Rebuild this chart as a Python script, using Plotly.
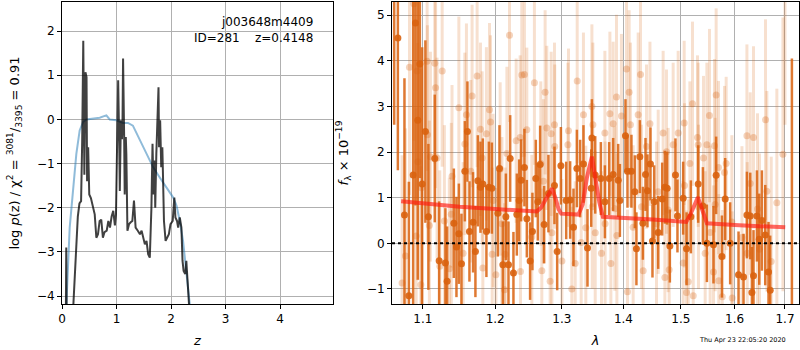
import plotly.graph_objects as go
import math

# ---------------- Left panel: log p(z) ----------------
z_grid = [0.070, 0.078, 0.086, 0.20, 0.24, 0.29, 0.32, 0.35, 0.37, 0.39, 0.41, 0.43, 0.45, 0.46, 0.48,
          0.50, 0.53, 0.57, 0.60, 0.63, 0.66, 0.69, 0.72, 0.75, 0.78, 0.82, 0.85, 0.88, 0.91, 0.94,
          0.97, 0.99, 1.01, 1.03, 1.05, 1.06, 1.08, 1.10, 1.11, 1.12, 1.14, 1.15, 1.17, 1.18, 1.20,
          1.23, 1.26, 1.29, 1.32, 1.35, 1.39, 1.43, 1.46, 1.49, 1.52, 1.55, 1.58, 1.61, 1.64, 1.66,
          1.68, 1.70, 1.71, 1.73, 1.75, 1.77, 1.78, 1.80, 1.82, 1.84, 1.85, 1.87, 1.90, 1.93, 1.96,
          1.99, 2.03, 2.06, 2.08, 2.11, 2.13, 2.16, 2.19, 2.21, 2.23, 2.26, 2.28, 2.30, 2.33, 2.36]
logpz = [-4.6, -2.9, -4.6, -4.4, -3.3, -2.2, -1.9, -1.85, -0.5, 1.78, -1.25, 1.07, 0.96, -1.4, -0.63,
         -1.7, -1.78, -2.0, -2.15, -2.68, -2.6, -2.3, -2.27, -2.68, -2.55, -2.52, -2.3, -2.45, -2.2, -2.07,
         -2.4, -2.15, -0.78, 0.89, -0.55, -1.62, -0.02, -0.45, 0.0, 1.38, -0.4, -1.7, -0.4, -0.78, -2.52,
         -2.37, -2.33, -2.30, -1.84, -2.45, -2.52, -2.6, -2.52, -2.68, -2.83, -2.75, -3.05, -3.13, -2.0, -0.55,
         -1.7, -0.93, -2.0, -0.78, -0.02, 0.73, -0.63, -0.02, -1.08, -0.63, -1.16, -2.3, -2.75, -2.68, -2.6,
         -2.37, -2.3, -1.77, -2.22, -2.3, -2.45, -2.22, -2.45, -3.2, -3.43, -3.5, -3.2, -3.6, -4.2, -4.8]

z_prior = [0.07, 0.08, 0.141, 0.202, 0.263, 0.324, 0.386, 0.447, 0.569, 0.692, 0.783, 0.814, 0.875,
           0.998, 1.12, 1.21, 1.30, 1.43, 1.55, 1.67, 1.79, 1.92, 2.04, 2.10, 2.16, 2.22, 2.28, 2.34, 2.37]
logp_prior = [-5.0, -4.2, -2.45, -1.54, -0.78, -0.25, -0.06, 0.0, 0.02, 0.04, 0.08, 0.09, 0.0,
              -0.02, -0.08, -0.08, -0.14, -0.48, -0.78, -1.08, -1.31, -1.54, -1.77, -1.95, -2.3, -2.75,
              -3.43, -4.1, -4.5]

# ---------------- Right panel: spectrum ----------------
dark_wave = [1.0628, 1.0675, 1.0760, 1.0817, 1.0873, 1.0903, 1.0934, 1.0961, 1.0991, 1.1034, 1.1074,
             1.1159, 1.1218, 1.1303, 1.1326, 1.1418, 1.1454, 1.1487, 1.1523, 1.1570, 1.1606, 1.1634,
             1.1685, 1.1718, 1.1752, 1.1789, 1.1823, 1.1874, 1.1909, 1.1952, 1.2038, 1.2062, 1.2111,
             1.2155, 1.2193, 1.2218, 1.2266, 1.2316, 1.2350, 1.2380, 1.2429, 1.2465, 1.2514, 1.2549,
             1.2600, 1.2631, 1.2666, 1.2727, 1.2793, 1.2886, 1.2928, 1.2986, 1.3069, 1.3131, 1.3184,
             1.3238, 1.3290, 1.3343, 1.3408, 1.3468, 1.3479, 1.3533, 1.3625, 1.3691, 1.3762, 1.3828,
             1.3912, 1.3940, 1.4034, 1.4068, 1.4135, 1.4193, 1.4220, 1.4279, 1.4331, 1.4376, 1.4410,
             1.4462, 1.4497, 1.4527, 1.4597, 1.4667, 1.4715, 1.4755, 1.4803, 1.4903, 1.4939, 1.5042,
             1.5103, 1.5182, 1.5316, 1.5403, 1.5477, 1.5600, 1.5650, 1.5759, 1.5821, 1.5916, 1.6077,
             1.6174, 1.6240, 1.6305, 1.6338, 1.6369, 1.6436, 1.6482, 1.6535, 1.6601, 1.6667, 1.6701]
dark_flux = [6.0, 4.5, 0.62, -1.15, 1.5, 4.83, 2.70, 3.93, 1.3, 2.45, 0.58,
             1.86, -0.38, -0.43, -0.83, 0.44, -0.08, 0.21, -0.45, 1.58, 2.45, 0.26,
             0.46, -0.18, 1.37, 1.23, 1.30, 0.26, 1.23, 1.21, 0.66, 1.64, -0.47,
             0.58, -0.47, 1.86, -0.65, 0.63, 0.94, 1.38, 1.66, 0.54, -0.39, 0.26,
             1.42, 0.91, 1.73, 0.41, 1.09, 1.27, -0.18, 1.70, 0.94, 0.95, 0.35,
             1.64, 1.42, 1.74, -0.10, 1.21, 2.31, 1.50, 1.42, 0.91, 1.42, 1.51,
             1.38, 0.94, 2.36, 1.58, 1.58, 1.13, -0.12, 1.90, 0.44, 1.51, 1.15,
             1.74, 0.05, 0.91, 0.24, 0.97, 1.23, 1.21, -0.06, 1.50, 0.60, 0.99,
             -0.12, 0.58, 1.30, 0.82, 0.00, -0.03, 1.49, -0.29, 0.97, 0.00, -0.69,
             -0.74, 0.62, 0.60, -1.08, -0.71, 0.60, 0.09, 0.50, 0.18, -0.63, -1.03]
dark_err = [3.4, 2.9, 3.0, 2.5, 4.0, 4.0, 3.5, 2.5, 3.0, 2.0, 1.6,
            1.4, 1.3, 1.2, 1.2, 1.2, 1.1, 1.1, 1.1, 1.1, 1.1, 1.1,
            1.1, 1.0, 1.0, 1.0, 1.0, 1.0, 1.0, 1.0, 0.95, 0.95, 0.95,
            0.95, 0.95, 0.95, 0.9, 0.9, 0.9, 0.9, 0.85, 0.85, 0.85, 0.85,
            0.85, 0.85, 0.85, 0.85, 0.85, 0.85, 0.85, 0.85, 0.85, 0.85, 0.85,
            0.85, 0.85, 0.85, 0.85, 0.85, 0.85, 0.85, 0.8, 0.8, 0.8, 0.8,
            0.8, 0.8, 0.8, 0.8, 0.8, 0.8, 0.8, 0.8, 0.8, 0.8, 0.8,
            0.8, 0.8, 0.8, 0.8, 0.8, 0.8, 0.8, 0.8, 0.8, 0.8, 0.8,
            0.8, 0.8, 0.85, 0.85, 0.85, 0.85, 0.85, 0.9, 0.9, 0.9, 0.95,
            0.95, 0.95, 0.95, 1.0, 1.0, 1.0, 1.0, 1.1, 1.1, 1.1, 1.2]

edge_wave = [1.7142]
edge_flux = [1.0]
edge_err = [3.05]

light_wave = [1.0729, 1.0773, 1.0825, 1.0882, 1.0912, 1.0925, 1.0934, 1.0974, 1.0982, 1.1057, 1.1061,
              1.1087, 1.1101, 1.1159, 1.1170, 1.1190, 1.1227, 1.1259, 1.1289, 1.1356, 1.1383, 1.1393,
              1.1487, 1.1546, 1.1570, 1.1592, 1.1653, 1.1671, 1.1742, 1.1789, 1.1813, 1.1823, 1.1874,
              1.1918, 1.1932, 1.1956, 1.1970, 1.2010, 1.2072, 1.2097, 1.2135, 1.2145, 1.2170, 1.2208,
              1.2306, 1.2365, 1.2370, 1.2390, 1.2429, 1.2465, 1.2540, 1.2579, 1.2676, 1.2692, 1.2716,
              1.2742, 1.2768, 1.2819, 1.2835, 1.2846, 1.2886, 1.2890, 1.3002, 1.3096, 1.3105, 1.3158,
              1.3211, 1.3243, 1.3306, 1.3343, 1.3381, 1.3479, 1.3485, 1.3495, 1.3533, 1.3635, 1.3691,
              1.3695, 1.3774, 1.3790, 1.3828, 1.3856, 1.3883, 1.3890, 1.3966, 1.4051, 1.4068, 1.4096,
              1.4118, 1.4164, 1.4250, 1.4290, 1.4307, 1.4336, 1.4393, 1.4453, 1.4567, 1.4597, 1.4684,
              1.4715, 1.4743, 1.4773, 1.4791, 1.4862, 1.4952, 1.5042, 1.5060, 1.5066, 1.5103, 1.5134,
              1.5164, 1.5212, 1.5225, 1.5303, 1.5316, 1.5322, 1.5414, 1.5445, 1.5477, 1.5525, 1.5538,
              1.5600, 1.5619, 1.5632, 1.5650, 1.5694, 1.5700, 1.5765, 1.5808, 1.5840, 1.5949, 1.5955,
              1.6143, 1.6240, 1.6246, 1.6305, 1.6369, 1.6448, 1.6488, 1.6607, 1.6634, 1.6721, 1.6835,
              1.6958, 1.7000]
light_flux = [-0.87, -0.28, 3.86, 5.25, 0.16, 3.78, 1.79, -0.91, 1.22, 3.99, 2.38,
              0.39, 1.90, 3.95, 3.41, 1.87, -0.50, 3.78, 0.49, -0.56, 0.64, 1.47,
              2.97, -0.22, 2.18, 2.82, 1.58, 3.23, 3.67, 2.50, 1.87, -0.54, 2.40,
              2.93, 2.66, -0.24, 0.94, -0.69, 1.63, 0.43, -1.02, -0.24, 1.97, 4.56,
              2.25, 2.32, -0.62, 3.69, 3.70, 2.49, 0.14, 3.52, 1.75, -0.60, 1.36,
              3.31, 2.53, -0.83, 2.40, 0.23, 2.60, 2.12, -0.39, 2.16, 2.47, -1.00,
              -0.44, 3.56, 0.02, 2.82, 0.34, 3.00, 0.80, 2.60, 0.23, -0.22, 2.42,
              0.43, 2.84, -0.44, 2.62, 0.76, 3.21, 0.17, 2.79, 3.82, -1.06, 3.31,
              2.60, 0.35, 2.82, 3.70, 0.80, -0.60, 2.12, 2.62, 0.43, 1.13, 2.42,
              -0.75, 2.01, 0.73, -0.58, 2.16, 2.42, -0.43, 2.64, 1.27, -1.08, -0.84,
              1.75, 3.06, -1.15, 2.32, 2.16, 0.80, 1.87, -0.22, 2.16, 2.80, 0.24,
              -0.63, 2.14, 0.85, 3.25, 1.66, -0.82, -1.17, 1.55, 1.75, 0.47, -1.20,
              0.13, 2.36, -0.22, 1.31, 2.32, 0.75, -0.13, 2.71, 1.14, -0.40, 0.89,
              1.95, 5.80]
light_err = [2.8, 2.8, 2.8, 3.0, 2.8, 2.8, 2.6, 2.6, 2.6, 2.4, 2.4,
             2.3, 2.3, 2.2, 2.2, 2.2, 2.1, 2.1, 2.1, 2.0, 2.0, 2.0,
             2.0, 2.0, 2.0, 2.0, 2.0, 2.0, 2.0, 1.9, 1.9, 1.9, 1.9,
             1.9, 1.9, 1.9, 1.9, 1.9, 1.9, 1.9, 1.9, 1.9, 1.9, 1.9,
             1.8, 1.8, 1.8, 1.8, 1.8, 1.8, 1.8, 1.8, 1.8, 1.8, 1.8,
             1.8, 1.8, 1.8, 1.8, 1.8, 1.8, 1.8, 1.8, 1.8, 1.8, 1.8,
             1.8, 1.8, 1.8, 1.8, 1.8, 1.8, 1.8, 1.8, 1.8, 1.8, 1.8,
             1.8, 1.8, 1.8, 1.8, 1.8, 1.8, 1.8, 1.8, 1.8, 1.8, 1.8,
             1.8, 1.8, 1.8, 1.8, 1.8, 1.8, 1.8, 1.8, 1.8, 1.8, 1.8,
             1.8, 1.8, 1.8, 1.8, 1.8, 1.8, 1.8, 1.8, 1.8, 1.8, 1.8,
             1.8, 1.8, 1.8, 1.8, 1.8, 1.8, 1.8, 1.8, 1.8, 1.9, 1.9,
             1.9, 1.9, 1.9, 1.9, 1.9, 1.9, 1.9, 1.9, 1.9, 1.9, 1.9,
             2.0, 2.0, 2.0, 2.0, 2.0, 2.1, 2.1, 2.2, 2.2, 2.3, 2.5,
             3.0, 3.2]

model_wave = [1.0717, 1.10, 1.15, 1.20, 1.2615, 1.268, 1.276, 1.2846, 1.290, 1.295, 1.2991,
              1.3263, 1.333, 1.340, 1.3479, 1.353, 1.360, 1.3658, 1.40, 1.45, 1.5098, 1.518,
              1.531, 1.540, 1.5477, 1.60, 1.65, 1.7005]
model_flux = [0.92, 0.87, 0.80, 0.75, 0.70, 0.78, 1.00, 1.20, 1.00, 0.75, 0.65,
              0.63, 0.85, 1.45, 1.90, 1.50, 0.90, 0.58, 0.56, 0.52, 0.47, 0.65,
              1.01, 0.70, 0.44, 0.40, 0.37, 0.35]

x_ticks_right = [1.1, 1.2, 1.3, 1.4, 1.5, 1.6, 1.7]
x_ticks_left = [0, 1, 2, 3, 4]
y_ticks_left = [-4, -3, -2, -1, 0, 1, 2]
y_ticks_right = [-1, 0, 1, 2, 3, 4, 5]

DARK = "rgba(217,98,14,0.9)"
LIGHT_BAR = "rgba(217,98,14,0.2)"
LIGHT_MK = "rgba(217,98,14,0.28)"
FONT = "DejaVu Sans"

fig = go.Figure()

fig.add_trace(go.Scatter(x=z_prior, y=logp_prior, mode="lines",
                         line=dict(color="rgba(31,119,180,0.5)", width=2),
                         xaxis="x", yaxis="y", showlegend=False))
fig.add_trace(go.Scatter(x=z_grid, y=logpz, mode="lines",
                         line=dict(color="rgba(0,0,0,0.75)", width=2),
                         xaxis="x", yaxis="y", showlegend=False))

fig.add_trace(go.Scatter(x=light_wave, y=light_flux, mode="markers",
                         marker=dict(color=LIGHT_MK, size=7, line=dict(width=0)),
                         error_y=dict(type="data", array=light_err, color=LIGHT_BAR,
                                      thickness=3, width=0),
                         xaxis="x2", yaxis="y2", showlegend=False))
fig.add_trace(go.Scatter(x=dark_wave, y=dark_flux, mode="markers",
                         marker=dict(color=DARK, size=7, line=dict(width=0)),
                         error_y=dict(type="data", array=dark_err, color="rgba(217,98,14,0.85)",
                                      thickness=2.5, width=0),
                         xaxis="x2", yaxis="y2", showlegend=False))
fig.add_trace(go.Scatter(x=edge_wave, y=edge_flux, mode="markers",
                         marker=dict(color="rgba(0,0,0,0)", size=1),
                         error_y=dict(type="data", array=edge_err, color="rgba(217,98,14,0.85)",
                                      thickness=2.5, width=0),
                         xaxis="x2", yaxis="y2", showlegend=False))
fig.add_trace(go.Scatter(x=model_wave, y=model_flux, mode="lines",
                         line=dict(color="rgba(255,25,15,0.65)", width=4),
                         xaxis="x2", yaxis="y2", showlegend=False))

y_dom = [1 - 304 / 350, 1 - 2 / 350]
axis_common = dict(showline=True, linecolor="black", linewidth=1, mirror=True,
                   ticks="outside", ticklen=4, tickcolor="black", automargin=False,
                   showgrid=True, gridcolor="#b0b0b0", gridwidth=1, zeroline=False,
                   tickfont=dict(family=FONT, size=12, color="black"))

fig.update_layout(
    width=800, height=350,
    margin=dict(l=0, r=0, t=0, b=0),
    paper_bgcolor="white", plot_bgcolor="white",
    font=dict(family=FONT, size=12, color="black"),
    xaxis=dict(domain=[62 / 800, 333 / 800], anchor="y", range=[0, 4.97],
               tickvals=x_ticks_left, title=dict(text="<i>z</i>", standoff=10,
                                                 font=dict(family=FONT, size=13)),
               **axis_common),
    yaxis=dict(domain=y_dom, anchor="x", range=[-4.18, 2.66], tickvals=y_ticks_left,
               title=dict(text="log <i>p</i>(z) / χ<sup>2</sup> = <sup>3081</sup>/<sub>3395</sub> = 0.91",
                          standoff=14, font=dict(family=FONT, size=13)),
               **axis_common),
    xaxis2=dict(domain=[392 / 800, 799 / 800], anchor="y2", type="log",
                range=[math.log10(1.060), math.log10(1.7289)],
                tickvals=x_ticks_right, ticktext=[f"{v:.1f}" for v in x_ticks_right],
                title=dict(text="<i>λ</i>", standoff=10, font=dict(family=FONT, size=13)),
                **axis_common),
    yaxis2=dict(domain=y_dom, anchor="x2", range=[-1.33, 5.29], tickvals=y_ticks_right,
                title=dict(text="<i>f</i><sub>λ</sub> × 10<sup>−19</sup>", standoff=15,
                           font=dict(family=FONT, size=13)),
                **axis_common),
    shapes=[dict(type="line", xref="x2 domain", yref="y2", x0=0, x1=1, y0=0, y1=0,
                 line=dict(color="black", width=2, dash="dot"))],
    annotations=[
        dict(xref="x domain", yref="y domain", x=0.935, y=0.965, xanchor="right", yanchor="top",
             text="j003648m4409<br>ID=281\u00a0\u00a0\u00a0\u00a0z=0.4148", align="right",
             showarrow=False, font=dict(family=FONT, size=12, color="black")),
        dict(xref="paper", yref="paper", x=788 / 800, y=10 / 350, xanchor="right", yanchor="middle",
             text="Thu Apr 23 22:05:20 2020", showarrow=False,
             font=dict(family=FONT, size=6.5, color="black")),
    ],
)

fig.write_html("out.html", config={"displayModeBar": False},
               post_script="document.body.style.margin='0';document.body.style.padding='0';")
